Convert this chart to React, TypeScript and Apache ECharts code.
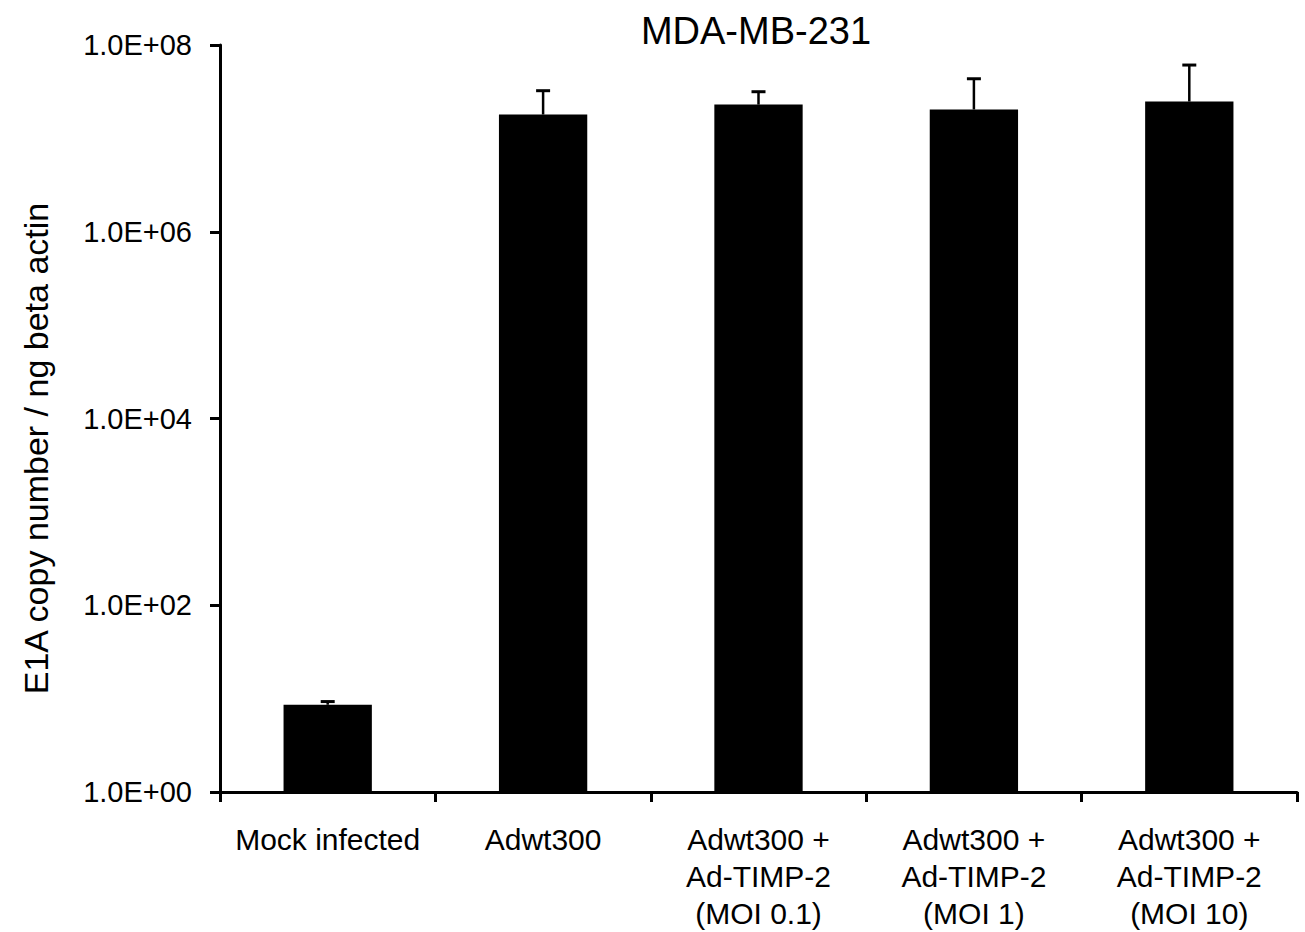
import React, { useEffect, useRef } from "react";
import * as echarts from "echarts";

const categories = [
  "Mock infected",
  "Adwt300",
  "Adwt300 +\nAd-TIMP-2\n(MOI 0.1)",
  "Adwt300 +\nAd-TIMP-2\n(MOI 1)",
  "Adwt300 +\nAd-TIMP-2\n(MOI 10)",
];
const means = [8.6, 1.8e7, 2.3e7, 2.04e7, 2.48e7];
const errorTops = [9.3, 3.24e7, 3.16e7, 4.35e7, 6.1e7];
const yTickLabels: Record<number, string> = {
  0: "1.0E+00",
  2: "1.0E+02",
  4: "1.0E+04",
  6: "1.0E+06",
  8: "1.0E+08",
};
const titleText = "MDA-MB-231";
const yAxisName = "E1A copy number / ng beta actin";

const FONT = "'Liberation Sans', Arial, Helvetica, sans-serif";

export default function App() {
  const ref = useRef<HTMLDivElement>(null);
  useEffect(() => {
    if (!ref.current) return;
    const chart = echarts.init(ref.current, null, { renderer: "svg" });
    const errData = means.map((m, i) => [i, m, errorTops[i]]);
    chart.setOption({
      animation: false,
      backgroundColor: "#ffffff",
      textStyle: { fontFamily: FONT, color: "#000" },
      title: {
        text: titleText,
        left: 751,
        top: 7,
        textAlign: "center",
        textStyle: { fontFamily: FONT, fontSize: 38, fontWeight: "normal", color: "#000" },
      },
      grid: { left: 220, right: 8, top: 45, bottom: 135, containLabel: false },
      xAxis: {
        type: "category",
        data: categories,
        axisLine: { lineStyle: { color: "#000", width: 3 } },
        axisTick: { show: true, alignWithLabel: false, length: 10, lineStyle: { color: "#000", width: 3 } },
        axisLabel: {
          interval: 0,
          margin: 29,
          fontFamily: FONT,
          fontSize: 30,
          lineHeight: 37,
          color: "#000",
          align: "center",
        },
      },
      yAxis: {
        type: "log",
        logBase: 10,
        min: 1,
        max: 1e8,
        interval: 2,
        name: yAxisName,
        nameLocation: "middle",
        nameGap: 167,
        nameRotate: 90,
        nameTextStyle: { fontFamily: FONT, fontSize: 34, color: "#000", padding: [0, 60, 0, 0] },
        axisLine: { show: true, lineStyle: { color: "#000", width: 3 } },
        axisTick: { show: true, length: 10, lineStyle: { color: "#000", width: 3 } },
        minorTick: { show: false },
        splitLine: { show: false },
        axisLabel: {
          margin: 28,
          fontFamily: FONT,
          fontSize: 29,
          color: "#000",
          formatter: (v: number) => {
            const e = Math.round(Math.log10(v));
            return yTickLabels[e] ?? "";
          },
        },
      },
      series: [
        {
          type: "bar",
          data: means,
          barWidth: "41%",
          itemStyle: { color: "#000" },
          z: 2,
        },
        {
          type: "custom",
          data: errData,
          z: 3,
          renderItem: (params: any, api: any) => {
            const idx = api.value(0);
            const top = api.coord([idx, api.value(2)]);
            const base = api.coord([idx, api.value(1)]);
            const half = 7;
            return {
              type: "group",
              children: [
                {
                  type: "line",
                  shape: { x1: top[0], y1: base[1], x2: top[0], y2: top[1] },
                  style: { stroke: "#000", lineWidth: 2.5 },
                },
                {
                  type: "line",
                  shape: { x1: top[0] - half, y1: top[1], x2: top[0] + half, y2: top[1] },
                  style: { stroke: "#000", lineWidth: 3 },
                },
              ],
            };
          },
        },
      ],
    });
    return () => chart.dispose();
  }, []);
  return (
    <div
      ref={ref}
      style={{ position: "absolute", left: 0, top: 0, width: 1305, height: 932 }}
    />
  );
}
